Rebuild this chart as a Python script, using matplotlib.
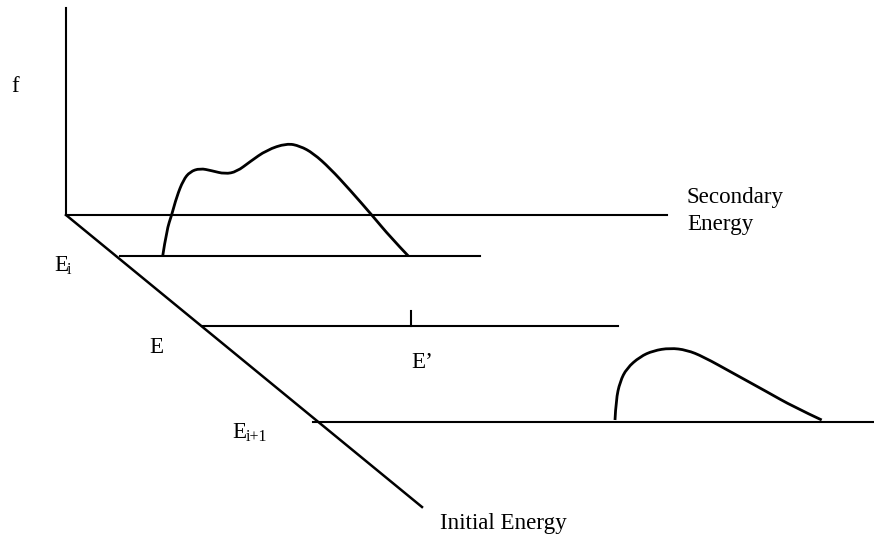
import matplotlib.pyplot as plt
from matplotlib.path import Path
from matplotlib.patches import PathPatch

# diagram coordinates, in pixels (y grows downward)
origin = (66, 215)
f_axis_top = 8
secondary_axis_end = 667
initial_axis_end = (422, 507)

# energy levels along the initial-energy axis: (y, x start, x end)
level_names = ["Ei", "E", "Ei+1"]
level_y = [256, 326, 422]
level_x0 = [120, 202, 313]
level_x1 = [480, 618, 874]

# E' tick on the E line
tick_x = 411
tick_top = 311

# spectrum at E_i
curve1_x = [162.7, 166.7, 171.7, 176.7, 183.3, 190, 200, 211.7, 225, 236.7, 250,
            266.7, 286.7, 300, 313.3, 330, 350, 373.3, 390, 408.3]
curve1_y = [256, 230, 215, 196.7, 180, 171.7, 168.3, 170.7, 174, 171.7, 161.7,
            150, 143.3, 146, 153.3, 168.3, 190, 216.7, 236.7, 256]

# spectrum at E_i+1
curve2_x = [615, 616, 620, 626.7, 640, 653.3, 670, 686.7, 703.3, 733.3, 766.7,
            793.3, 821.7]
curve2_y = [420, 400, 381.7, 368.3, 356.7, 350.7, 348, 350, 356.7, 373.3, 391.7,
            406.7, 420]


def smooth_path(xs, ys):
    # quadratic bezier pieces with the read points as control points
    pts = list(zip(xs, ys))
    verts = [pts[0]]
    codes = [Path.MOVETO]
    for i in range(1, len(pts) - 1):
        mid = ((pts[i][0] + pts[i + 1][0]) / 2, (pts[i][1] + pts[i + 1][1]) / 2)
        if i == len(pts) - 2:
            mid = pts[-1]
        verts += [pts[i], mid]
        codes += [Path.CURVE3, Path.CURVE3]
    return Path(verts, codes)


plt.rcParams['font.family'] = ['Liberation Serif', 'DejaVu Serif']

fig = plt.figure(figsize=(8.74, 5.42), dpi=100)
ax = fig.add_axes([0, 0, 1, 1])
ax.set_xlim(0, 874)
ax.set_ylim(542, 0)
ax.axis('off')

lw = 1.5
ax.plot([origin[0], origin[0]], [f_axis_top, origin[1]], color='black', lw=lw)
ax.plot([origin[0], secondary_axis_end], [origin[1], origin[1]], color='black', lw=lw)
ax.plot([origin[0], initial_axis_end[0]], [origin[1], initial_axis_end[1]],
        color='black', lw=lw + 0.3)

for y, x0, x1 in zip(level_y, level_x0, level_x1):
    ax.plot([x0, x1], [y, y], color='black', lw=lw)

ax.plot([tick_x, tick_x], [tick_top, level_y[1]], color='black', lw=lw)

for cx, cy in [(curve1_x, curve1_y), (curve2_x, curve2_y)]:
    ax.add_patch(PathPatch(smooth_path(cx, cy), facecolor='none',
                           edgecolor='black', lw=2.0, joinstyle='round'))

fs = 16.6
sub = 11.5
ax.text(11, 92, "f", fontsize=fs, va='baseline')
ax.text(687, 203, "Secondary", fontsize=fs, va='baseline')
ax.text(687, 230, "Energy", fontsize=fs, va='baseline')
ax.text(54, 271, "E", fontsize=fs, va='baseline')
ax.text(67, 274, "i", fontsize=sub, va='baseline')
ax.text(149, 353, "E", fontsize=fs, va='baseline')
ax.text(411, 368, "E\u2019", fontsize=fs, va='baseline')
ax.text(232, 438, "E", fontsize=fs, va='baseline')
ax.text(246, 441, "i+1", fontsize=sub, va='baseline')
ax.text(440, 529, "Initial Energy", fontsize=fs, va='baseline')

fig.savefig("out.png", dpi=100, facecolor='white')
